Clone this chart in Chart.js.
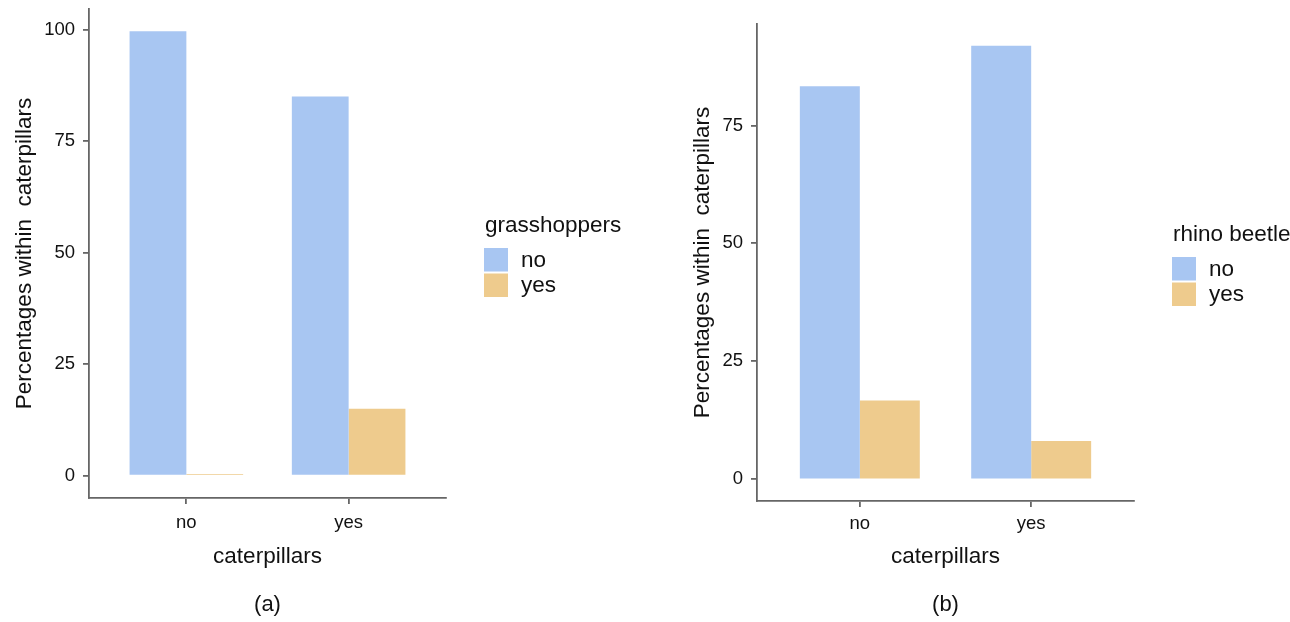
<!DOCTYPE html>
<html>
<head>
<meta charset="utf-8">
<script src="https://cdn.jsdelivr.net/npm/chart.js@4.4.1/dist/chart.umd.min.js"></script>
<style>
  html, body { margin: 0; padding: 0; background: #ffffff; }
  #wrap { position: relative; width: 1290px; height: 622px; overflow: hidden; }
  canvas { position: absolute; top: 0; }
  #panelA { left: 0; }
  #panelB { left: 645px; }
</style>
</head>
<body>
<div id="wrap">
  <canvas id="panelA" width="645" height="622"></canvas>
  <canvas id="panelB" width="645" height="622"></canvas>
</div>
<script>
// caterpillars present? (x axis groups)
const categories = ['no', 'yes'];
// fill groups within each caterpillar group
const groupLabels = ['no', 'yes'];

// (a) percentage of grasshoppers within caterpillar groups
const grasshopperNo = [99.6, 85.0];
const grasshopperYes = [0.4, 15.0];

// (b) percentage of rhino beetle within caterpillar groups
const rhinoNo = [83.3, 91.9];
const rhinoYes = [16.7, 8.1];

const yTicksA = [0, 25, 50, 75, 100];
const yTicksB = [0, 25, 50, 75];

const BLUE = '#a8c6f2';
const GOLD = '#eecb8d';
const AXIS = '#666666';
const INK = '#111111';
const FAMILY = '"Liberation Sans", Arial, Helvetica, sans-serif';

function points(values) {
  return values.map((v, i) => ({ x: i, y: v }));
}

// Legend block to the right of the plot: title, then stacked colour keys
const keyBox = {
  id: 'keyBox',
  afterDraw(chart, args, opts) {
    const { ctx, chartArea } = chart;
    const x0 = chartArea.right + 38;
    const mid = (chartArea.top + chartArea.bottom) / 2;
    const baseline = mid - 21.5;
    const keyW = 24, keyH = 23.5, pitch = 25.5;
    ctx.save();
    ctx.fillStyle = INK;
    ctx.font = '22.5px ' + FAMILY;
    ctx.textAlign = 'left';
    ctx.textBaseline = 'alphabetic';
    ctx.fillText(opts.title, x0 + 1, baseline);
    chart.data.datasets.forEach((ds, i) => {
      const ky = baseline + 16 + i * pitch;
      ctx.fillStyle = ds.backgroundColor;
      ctx.fillRect(x0, ky, keyW, keyH);
      ctx.fillStyle = INK;
      ctx.font = '22.5px ' + FAMILY;
      ctx.textBaseline = 'middle';
      ctx.fillText(ds.label, x0 + keyW + 13, ky + keyH / 2 + 1);
    });
    ctx.restore();
  }
};

function makePanel(id, cfg) {
  const maxV = Math.max(...cfg.series[0], ...cfg.series[1]);
  return new Chart(document.getElementById(id), {
    type: 'bar',
    data: {
      datasets: [
        { label: groupLabels[0], data: points(cfg.series[0]), backgroundColor: BLUE },
        { label: groupLabels[1], data: points(cfg.series[1]), backgroundColor: GOLD }
      ]
    },
    options: {
      responsive: false,
      animation: false,
      devicePixelRatio: 1,
      layout: { padding: { top: cfg.top, right: cfg.right, left: 0, bottom: 0 } },
      datasets: { bar: { categoryPercentage: 0.7, barPercentage: 1, borderWidth: 0 } },
      scales: {
        x: {
          type: 'linear',
          min: -0.6,
          max: 1.6,
          offset: false,
          afterBuildTicks: s => { s.ticks = categories.map((_, i) => ({ value: i })); },
          ticks: {
            callback: v => categories[v],
            font: { family: FAMILY, size: 18.5 },
            color: INK,
            padding: cfg.xTickPad,
            maxRotation: 0,
            autoSkip: false
          },
          grid: { offset: false, drawOnChartArea: false, drawTicks: true, tickLength: 6, color: AXIS, lineWidth: 1.8 },
          border: { color: AXIS, width: 1.8 },
          title: {
            display: true,
            text: 'caterpillars',
            font: { family: FAMILY, size: 22.5 },
            color: INK,
            padding: { top: 0, bottom: 21.7 }
          },
          afterFit: s => { s.height = cfg.xHeight; s.paddingLeft = 0; s.paddingRight = 0; }
        },
        y: {
          min: -maxV * 0.05,
          max: maxV * 1.05,
          afterBuildTicks: s => { s.ticks = cfg.yTicks.map(v => ({ value: v })); },
          ticks: {
            font: { family: FAMILY, size: 18.5 },
            color: INK,
            padding: 8
          },
          grid: { drawOnChartArea: false, drawTicks: true, tickLength: 6, color: AXIS, lineWidth: 1.8 },
          border: { color: AXIS, width: 1.8 },
          title: {
            display: true,
            text: 'Percentages within  caterpillars',
            font: { family: FAMILY, size: 22.5 },
            color: INK,
            padding: { top: cfg.yTitlePad, bottom: 0 }
          },
          afterFit: s => { s.width = cfg.yWidth; s.paddingTop = 0; s.paddingBottom = 0; }
        }
      },
      plugins: {
        legend: { display: false },
        tooltip: { enabled: false },
        title: {
          display: true,
          position: 'bottom',
          fullSize: false,
          text: cfg.caption,
          font: { family: FAMILY, size: 22, weight: 'normal' },
          color: INK,
          padding: { top: 0, bottom: 3.4 }
        },
        keyBox: { title: cfg.legendTitle }
      }
    },
    plugins: [keyBox]
  });
}

makePanel('panelA', {
  series: [grasshopperNo, grasshopperYes],
  yTicks: yTicksA,
  legendTitle: 'grasshoppers',
  caption: '(a)',
  top: 9,
  right: 199,
  yWidth: 89,
  xHeight: 94.2,
  xTickPad: 8,
  yTitlePad: 11.5
});

makePanel('panelB', {
  series: [rhinoNo, rhinoYes],
  yTicks: yTicksB,
  legendTitle: 'rhino beetle',
  caption: '(b)',
  top: 24,
  right: 156,
  yWidth: 112,
  xHeight: 91.2,
  xTickPad: 6,
  yTitlePad: 44.5
});
</script>
</body>
</html>
